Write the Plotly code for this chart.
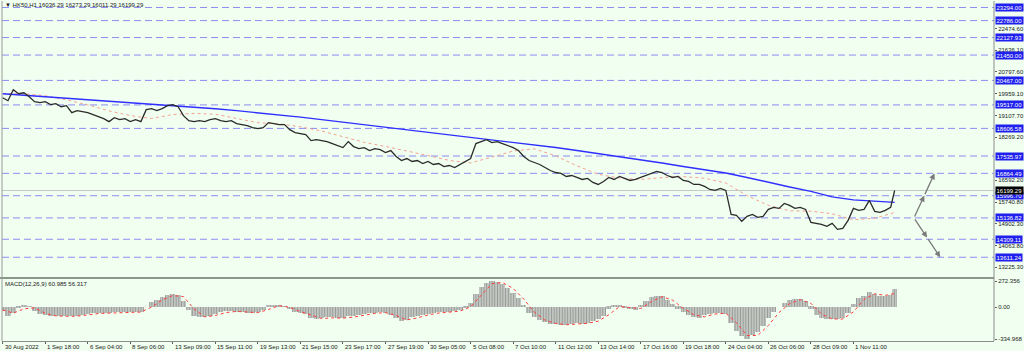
import plotly.graph_objects as go

# ---------------- data ----------------
close_bar = list(range(0, 669, 4)) + [671]
close = [
    19796, 19680, 20105, 19951, 19989, 19835, 19642, 19603, 19642, 19526,
    19564, 19448, 19487, 19216, 19294, 19255, 19216, 19139, 19062, 18985,
    18869, 19023, 18946, 18985, 18869, 18946, 18869, 19332, 19371, 19294,
    19371, 19487, 19526, 19448, 19100, 18907, 18869, 18907, 18869, 18946,
    18985, 18907, 18869, 18907, 18791, 18753, 18714, 18637, 18598, 18637,
    18830, 18791, 18753, 18753, 18559, 18443, 18405, 18366, 18134, 18173,
    18134, 18096, 18018, 17941, 17864, 18096, 17902, 17825, 17864, 17748,
    17825, 17786, 17670, 17748, 17516, 17361, 17439, 17323, 17361, 17245,
    17323, 17207, 17245, 17129, 17168, 17091, 17207, 17323, 17439, 18018,
    18096, 18173, 18057, 18096, 18018, 17941, 17864, 17748, 17516, 17361,
    17284, 17207, 17091, 16975, 16897, 16859, 16743, 16781, 16704, 16627,
    16666, 16511, 16434, 16550, 16704, 16627, 16743, 16666, 16588, 16627,
    16704, 16781, 16859, 16936, 16897, 16781, 16704, 16743, 16588, 16550,
    16434, 16434, 16356, 16240, 16202, 16279, 16202, 15274, 15235, 15004,
    15197, 15274, 15158, 15197, 15467, 15545, 15506, 15699, 15622, 15506,
    15545, 15467, 14965, 14926, 14888, 14810, 14926, 14694, 14733, 15042,
    15506, 15429, 15467, 15815, 15390, 15351, 15429, 15545, 16199.29,
]

ma_bar = list(range(0, 657, 16)) + [671]
ma_slow = [
    19951, 19893, 19835, 19777, 19719, 19661, 19603, 19564, 19506, 19448,
    19371, 19294, 19216, 19139, 19042, 18946, 18849, 18753, 18656, 18559,
    18463, 18366, 18270, 18173, 18076, 17980, 17864, 17748, 17632, 17516,
    17400, 17265, 17130, 16994, 16878, 16704, 16511, 16337, 16163, 15951,
    15835, 15777, 15738,
]
ma_fast = [
    19951, 19951, 19874, 19711, 19518, 19286, 19104, 18988, 19147, 19185,
    19158, 19004, 18826, 18783, 18668, 18505, 18281, 18065, 17906, 17740,
    17554, 17365, 17268, 17496, 17728, 17817, 17543, 17156, 16828, 16681,
    16627, 16700, 16739, 16673, 16492, 16001, 15622, 15413, 15398, 15297,
    15065, 15123, 15347,
]

macd_main = [
    -40, -90, -60, -10, 15, 5, -40, -70, -85, -95,
    -95, -100, -95, -100, -90, -80, -75, -65, -65, -60,
    -65, -55, -55, -50, -55, -50, -50, 0, 50, 75,
    100, 125, 140, 130, 60, -30, -90, -110, -105, -90,
    -70, -55, -45, -40, -50, -55, -60, -60, -55, -30,
    10, 20, 15, 5, -25, -50, -65, -70, -115, -125,
    -120, -110, -110, -115, -120, -100, -95, -80, -70, -65,
    -60, -55, -60, -80, -120, -150, -135, -110, -95, -80,
    -70, -60, -55, -55, -50, -45, -30, -5, 40, 140,
    210, 255, 272.356, 262, 240, 200, 150, 90, 10, -60,
    -110, -140, -160, -175, -180, -185, -190, -180, -170, -175,
    -165, -150, -130, -90, -20, 20, 15, -10, -25, -30,
    10, 60, 100, 120, 110, 75, 30, -20, -50, -80,
    -110, -115, -80, -70, -65, -60, -70, -170, -250, -310,
    -334.968, -300, -260, -200, -120, -50, 0, 40, 70, 85,
    80, 60, -20, -80, -120, -130, -125, -130, -120, -60,
    30, 90, 120, 160, 140, 120, 110, 130, 190,
]
signal_bar = list(range(0, 665, 8)) + [671]
macd_signal = [
    -30, -63, -18, -7, -65, -92, -97, -95, -82, -68,
    -63, -58, -53, -52, 0, 75, 122, 110, -20, -102,
    -88, -57, -45, -55, -58, -25, 15, -2, -47, -83,
    -120, -113, -115, -105, -82, -65, -58, -87, -135, -113,
    -82, -62, -53, -42, 2, 130, 246, 258, 197, 83,
    -53, -137, -172, -185, -180, -170, -148, -80, 5, -7,
    -15, 57, 110, 72, -13, -80, -102, -72, -65, -163,
    -298, -298, -193, -57, 37, 78, 40, -73, -125, -125,
    -50, 80, 140, 123, 143,
]

levels = [23294.00, 22786.00, 22127.93, 21450.00, 20467.00, 19517.00, 18606.58,
          17535.97, 16864.49, 15996.70, 15136.82, 14309.11, 13611.24]
price_ticks = [22474.60, 21636.10, 20797.60, 19959.10, 19107.70, 18269.20,
               16592.20, 15740.80, 14902.30, 14063.80, 13225.30]
last_price = 16199.29
macd_ticks = [272.356, 0.0, -334.968]
macd_ticktext = ["272.356", "0.00", "-334.968"]

time_bars = list(range(0, 641, 32))
time_labels = ["30 Aug 2022", "1 Sep 18:00", "6 Sep 04:00", "8 Sep 06:00", "13 Sep 09:00",
               "15 Sep 11:00", "19 Sep 13:00", "21 Sep 15:00", "23 Sep 17:00", "27 Sep 19:00",
               "30 Sep 05:00", "5 Oct 08:00", "7 Oct 10:00", "11 Oct 12:00", "13 Oct 14:00",
               "17 Oct 16:00", "19 Oct 18:00", "24 Oct 04:00", "26 Oct 06:00", "28 Oct 09:00",
               "1 Nov 11:00"]

title_text = "▼ HK50,H1 16036.29 16273.29 16011.29 16199.29"
macd_title = "MACD(12,26,9) 60.985 56.317"

# projection arrows: (bar, price) start, middle, end
arrow_up = [(685.5, 15136.82), (693.3, 16000.7), (701.0, 16864.49)]
arrow_down = [(685.5, 15136.82), (695.4, 14374.0), (705.3, 13611.24)]

# ---------------- figure ----------------
BG = "#F0FFF0"
FONT = "Liberation Sans"
W, H = 1024, 351
ML, MR, MT, MB = 2, 27, 0, 10
PH = H - MT - MB
main_bottom_px = 277
macd_top_px = 279

fig = go.Figure()

fig.add_trace(go.Bar(
    x=close_bar, y=macd_main, xaxis="x", yaxis="y2", width=4,
    marker=dict(color="#7a7a7a", line=dict(width=0),
                pattern=dict(shape="|", size=2.7, solidity=0.55,
                             fgcolor="#5c5c5c", bgcolor="#d4dad4")),
    hoverinfo="skip", showlegend=False))
fig.add_trace(go.Scatter(
    x=signal_bar, y=macd_signal, xaxis="x", yaxis="y2", mode="lines",
    line=dict(color="#ff3b3b", width=1, dash="dot"), hoverinfo="skip", showlegend=False))

fig.add_trace(go.Scatter(
    x=ma_bar, y=ma_fast, mode="lines", line=dict(color="#f4a090", width=1, dash="dot"),
    hoverinfo="skip", showlegend=False))
fig.add_trace(go.Scatter(
    x=ma_bar, y=ma_slow, mode="lines", line=dict(color="#2f2fff", width=1.4),
    hoverinfo="skip", showlegend=False))
fig.add_trace(go.Scatter(
    x=close_bar, y=close, mode="lines", line=dict(color="#2b2b2b", width=1.3),
    hoverinfo="skip", showlegend=False))

shapes = []
for lv in levels:
    shapes.append(dict(type="line", xref="paper", x0=0, x1=1, yref="y", y0=lv, y1=lv,
                       line=dict(color="#8c8cf2", width=1, dash="7px,4px"), layer="below"))
shapes.append(dict(type="line", xref="paper", x0=0, x1=1, yref="y", y0=last_price, y1=last_price,
                   line=dict(color="#c4c8c4", width=1), layer="below"))
sep_y = (PH - 277.7) / PH
shapes.append(dict(type="line", xref="paper", x0=-0.002, x1=1, yref="paper", y0=sep_y, y1=sep_y,
                   line=dict(color="#8c968c", width=2)))
shapes.append(dict(type="line", xref="paper", x0=1, x1=1, yref="paper", y0=0, y1=1,
                   line=dict(color="#8c8c8c", width=1)))
shapes.append(dict(type="line", xref="paper", x0=0, x1=0, yref="paper", y0=0, y1=1,
                   line=dict(color="#9a9a9a", width=1)))

annotations = []
for lv in levels:
    annotations.append(dict(xref="paper", x=1, xanchor="left", xshift=1, yref="y", y=lv,
                            yanchor="middle", text=f"{lv:.2f}", showarrow=False,
                            font=dict(family=FONT, size=6, color="white"),
                            bgcolor="#1f1fee", borderpad=0.5))
annotations.append(dict(xref="paper", x=1, xanchor="left", xshift=1, yref="y", y=last_price,
                        yanchor="middle", text=f"{last_price:.2f}", showarrow=False,
                        font=dict(family=FONT, size=6, color="white"),
                        bgcolor="#000000", borderpad=0.5))
for b, lab in zip(time_bars, time_labels):
    annotations.append(dict(xref="x", x=b, xanchor="left", xshift=0, yref="paper", y=0,
                            yanchor="top", yshift=-1, text=lab, showarrow=False,
                            font=dict(family=FONT, size=6, color="#202020")))
annotations.append(dict(xref="paper", x=0, xanchor="left", xshift=1, yref="paper", y=1,
                        yanchor="top", yshift=1, text=title_text, showarrow=False,
                        font=dict(family=FONT, size=6, color="#202020")))
annotations.append(dict(xref="paper", x=0, xanchor="left", xshift=1, yref="paper",
                        y=(PH - macd_top_px) / PH, yanchor="top", yshift=0, text=macd_title,
                        showarrow=False, font=dict(family=FONT, size=6, color="#202020")))
for path in (arrow_up, arrow_down):
    for (x0, y0), (x1, y1) in zip(path[:-1], path[1:]):
        annotations.append(dict(x=x1, y=y1, ax=x0, ay=y0, xref="x", yref="y", axref="x",
                                ayref="y", text="", showarrow=True, arrowhead=2,
                                arrowsize=0.9, arrowwidth=1.3, arrowcolor="#7a7a7a"))

main_dom = [1 - main_bottom_px / PH, 1]
macd_dom = [0, (PH - macd_top_px) / PH]
px_per_value = (339 - 281) / (272.356 + 334.968)
macd_top_val = 272.356 + (281 - macd_top_px) / px_per_value
macd_bot_val = -334.968 - (PH - 339) / px_per_value
price_per_px = (23294.00 - 15996.70) / (195.3 - 6.5)
price_top = 23294.00 + 6.5 * price_per_px
price_bot = 23294.00 - (main_bottom_px - 6.5) * price_per_px

fig.update_layout(
    width=W, height=H, margin=dict(l=ML, r=MR, t=MT, b=MB),
    paper_bgcolor=BG, plot_bgcolor=BG, bargap=0, showlegend=False,
    hovermode=False, shapes=shapes, annotations=annotations,
    xaxis=dict(range=[-0.5, 745.75], anchor="y2", showgrid=False, zeroline=False,
               tickvals=time_bars, showticklabels=False, ticks="outside", ticklen=2,
               tickcolor="#606060", showline=True, linecolor="#8c8c8c", linewidth=1),
    yaxis=dict(domain=main_dom, range=[price_bot, price_top], side="right", anchor="x",
               showgrid=False, zeroline=False, tickvals=price_ticks,
               ticktext=[f"{v:.2f}" for v in price_ticks], ticks="outside", ticklen=2,
               tickcolor="#606060", tickfont=dict(family=FONT, size=6, color="#202020"),
               showline=False),
    yaxis2=dict(domain=macd_dom, range=[macd_bot_val, macd_top_val], side="right", anchor="x",
                showgrid=False, zeroline=False, tickvals=macd_ticks, ticktext=macd_ticktext,
                ticks="outside", ticklen=2, tickcolor="#606060",
                tickfont=dict(family=FONT, size=6, color="#202020"), showline=False),
)

fig.write_html("out.html", config={"displayModeBar": False})
